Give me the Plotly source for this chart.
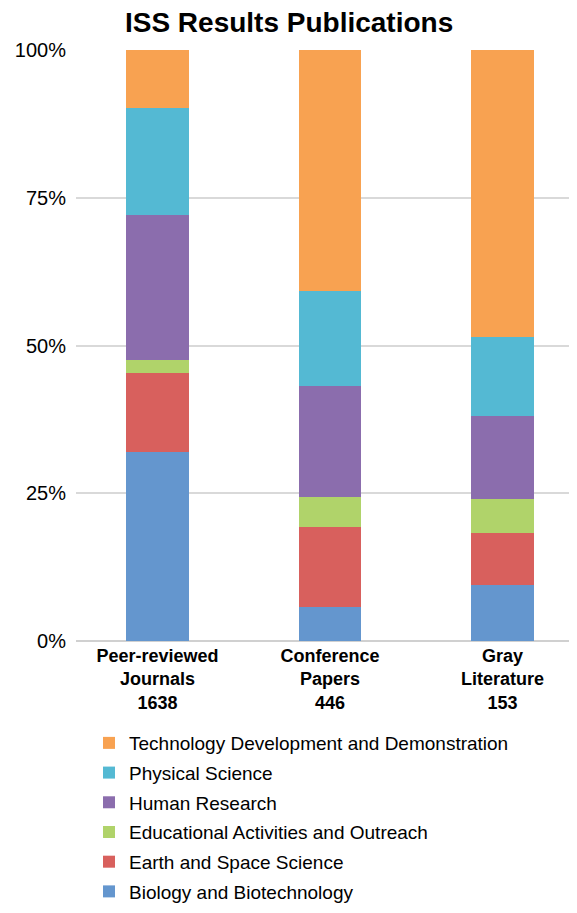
import plotly.graph_objects as go

categories = ["Peer-reviewed<br>Journals<br>1638", "Conference<br>Papers<br>446", "Gray<br>Literature<br>153"]
series_names = [
    "Biology and Biotechnology",
    "Earth and Space Science",
    "Educational Activities and Outreach",
    "Human Research",
    "Physical Science",
    "Technology Development and Demonstration",
]
biology = [32.0, 5.8, 9.5]
earth = [13.3, 13.5, 8.8]
education = [2.2, 5.1, 5.8]
human = [24.6, 18.8, 13.9]
physical = [18.1, 16.1, 13.5]
technology = [9.8, 40.7, 48.5]
colors = ["#6496CE", "#D8605D", "#B0D36A", "#8B6DAD", "#54B9D3", "#F8A251"]

values = [biology, earth, education, human, physical, technology]

fig = go.Figure()
n = len(series_names)
for i, (name, vals, col) in enumerate(zip(series_names, values, colors)):
    fig.add_trace(go.Bar(
        x=list(range(len(categories))),
        y=vals,
        name=name,
        marker=dict(color=col, line=dict(width=0)),
        legendgroup=name,
        legendrank=n - i,
    ))

fig.update_layout(
    barmode="stack",
    barnorm="percent",
    bargap=0.635,
    width=569,
    height=905,
    margin=dict(l=68, r=0, t=42, b=272),
    paper_bgcolor="white",
    plot_bgcolor="white",
    font=dict(family="Liberation Sans, Arial, sans-serif", color="black"),
    title=dict(text="<b>ISS Results Publications</b>", x=0.494, xref="container",
               y=0.9845, yref="container", yanchor="middle", xanchor="center",
               font=dict(size=28, color="black")),
    xaxis=dict(
        tickmode="array",
        tickvals=list(range(len(categories))),
        ticktext=["<b>" + c.replace("<br>", "</b><br><b>") + "</b>" for c in categories],
        range=[-0.4725, 2.432],
        showgrid=False,
        zeroline=False,
        showline=False,
        ticks="",
        tickfont=dict(size=18),
        ticklabelstandoff=2,
        fixedrange=True,
        automargin=False,
    ),
    yaxis=dict(
        range=[0, 100],
        tickvals=[0, 25, 50, 75, 100],
        ticktext=["0%", "25%", "50%", "75%", "100%"],
        showgrid=True,
        gridcolor="#D9D9D9",
        gridwidth=2,
        zeroline=True,
        zerolinecolor="#D0D0D0",
        zerolinewidth=2,
        tickfont=dict(size=20),
        ticks="",
        ticklabelstandoff=9,
        automargin=False,
    ),
    legend=dict(
        traceorder="grouped",
        tracegroupgap=2,
        x=0.026,
        xanchor="left",
        y=-0.1405,
        yanchor="top",
        font=dict(size=19),
        itemclick=False,
    ),
    showlegend=True,
)

fig.write_html("out.html")
